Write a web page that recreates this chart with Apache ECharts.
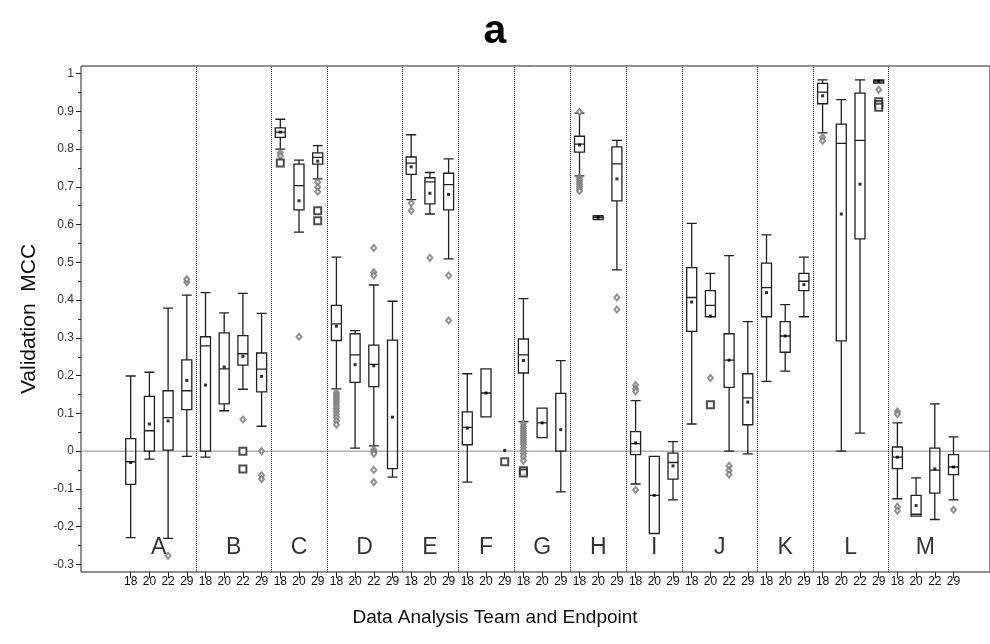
<!DOCTYPE html>
<html>
<head>
<meta charset="utf-8">
<script src="https://cdn.jsdelivr.net/npm/echarts@6/dist/echarts.min.js"></script>
<style>
  html, body { margin: 0; padding: 0; background: #fff; }
  #chart { width: 990px; height: 644px; }
</style>
</head>
<body>
<div id="chart"></div>
<script>
// Teams and the endpoints each team reported on
const teams = ['A', 'B', 'C', 'D', 'E', 'F', 'G', 'H', 'I', 'J', 'K', 'L', 'M'];
const teamEndpoints = [
  ['18', '20', '22', '29'],
  ['18', '20', '22', '29'],
  ['18', '20', '29'],
  ['18', '20', '22', '29'],
  ['18', '20', '29'],
  ['18', '20', '29'],
  ['18', '20', '29'],
  ['18', '20', '29'],
  ['18', '20', '29'],
  ['18', '20', '22', '29'],
  ['18', '20', '29'],
  ['18', '20', '22', '29'],
  ['18', '20', '22', '29']
];

// Box statistics, one entry per team/endpoint slot (in the order above)
const lowerWhisker = [-0.229, -0.021, -0.231, -0.014, -0.016, 0.107, 0.164, 0.066, 0.800, 0.580, 0.721, 0.165, 0.008, 0.014, -0.069, 0.666, 0.628, 0.509, -0.082, 0.091, null, 0.078, 0.036, -0.108, 0.729, 0.613, 0.480, -0.087, -0.218, -0.129, 0.072, 0.356, 0.000, -0.007, 0.185, 0.212, 0.356, 0.843, 0.000, 0.048, 0.975, -0.126, -0.172, -0.181, -0.129];
const lowerQuartile = [-0.088, 0.000, 0.003, 0.110, 0.000, 0.125, 0.228, 0.157, 0.831, 0.639, 0.760, 0.293, 0.182, 0.171, -0.046, 0.733, 0.655, 0.639, 0.017, 0.091, null, 0.207, 0.036, 0.000, 0.792, 0.614, 0.663, -0.009, -0.218, -0.074, 0.317, 0.356, 0.169, 0.070, 0.356, 0.262, 0.425, 0.920, 0.292, 0.562, 0.975, -0.046, -0.172, -0.111, -0.062];
const medianValue = [-0.028, 0.054, 0.089, 0.160, 0.279, 0.218, 0.258, 0.217, 0.845, 0.703, 0.778, 0.337, 0.255, 0.230, -0.046, 0.763, 0.713, 0.706, 0.063, 0.154, null, 0.255, 0.075, 0.000, 0.813, 0.619, 0.761, 0.020, -0.117, -0.030, 0.407, 0.386, 0.241, 0.141, 0.433, 0.305, 0.450, 0.951, 0.815, 0.823, 0.980, -0.016, -0.167, -0.050, -0.042];
const upperQuartile = [0.033, 0.145, 0.160, 0.242, 0.303, 0.313, 0.306, 0.260, 0.856, 0.760, 0.790, 0.386, 0.311, 0.281, 0.294, 0.779, 0.724, 0.736, 0.104, 0.218, null, 0.297, 0.114, 0.153, 0.834, 0.623, 0.806, 0.052, -0.014, -0.005, 0.486, 0.425, 0.311, 0.205, 0.498, 0.343, 0.471, 0.974, 0.866, 0.948, 0.983, 0.011, -0.117, 0.008, -0.009];
const upperWhisker = [0.199, 0.209, 0.379, 0.413, 0.420, 0.366, 0.418, 0.365, 0.879, 0.771, 0.809, 0.514, 0.319, 0.440, 0.397, 0.838, 0.738, 0.774, 0.205, 0.218, null, 0.404, 0.114, 0.240, 0.895, 0.624, 0.823, 0.134, -0.014, 0.025, 0.603, 0.471, 0.518, 0.343, 0.573, 0.388, 0.514, 0.983, 0.931, 0.983, 0.983, 0.075, -0.071, 0.125, 0.038];
const meanValue = [-0.030, 0.072, 0.080, 0.187, 0.175, 0.223, 0.251, 0.198, 0.845, 0.663, 0.768, 0.331, 0.229, 0.226, 0.090, 0.753, 0.683, 0.680, 0.061, 0.154, 0.002, 0.240, 0.075, 0.057, 0.811, 0.619, 0.721, 0.022, -0.117, -0.039, 0.395, 0.358, 0.241, 0.130, 0.420, 0.305, 0.441, 0.941, 0.628, 0.707, 0.980, -0.016, -0.144, -0.047, -0.042];

// Outlying models, drawn as diamonds (mild) and squares (extreme)
const diamondOutliers = {
  'A-22': [-0.277],
  'A-29': [0.447, 0.455],
  'B-22': [0.084],
  'B-29': [0.000, -0.064, -0.074],
  'C-18': [0.790, 0.782],
  'C-20': [0.303],
  'C-29': [0.712, 0.699, 0.687],
  'D-18': [0.155, 0.149, 0.143, 0.137, 0.131, 0.125, 0.119, 0.112, 0.105, 0.097, 0.089, 0.080, 0.070],
  'D-22': [0.538, 0.474, 0.465, 0.004, -0.002, -0.007, -0.050, -0.082],
  'E-18': [0.657, 0.637],
  'E-20': [0.512],
  'E-29': [0.465, 0.346],
  'G-18': [0.073, 0.066, 0.060, 0.054, 0.048, 0.042, 0.036, 0.030, 0.024, 0.018, 0.010, 0.002, -0.006, -0.014, -0.025],
  'H-18': [0.898, 0.725, 0.719, 0.713, 0.707, 0.701, 0.695, 0.689],
  'H-29': [0.407, 0.375],
  'I-18': [0.175, 0.165, 0.158, -0.103],
  'J-20': [0.194],
  'J-22': [-0.039, -0.051, -0.062],
  'L-18': [0.831, 0.822],
  'L-29': [0.957],
  'M-18': [0.105, 0.098, -0.147, -0.158],
  'M-29': [-0.155]
};
const squareOutliers = {
  'B-22': [0.000, -0.047],
  'C-18': [0.763],
  'C-29': [0.637, 0.610],
  'F-29': [-0.028],
  'G-18': [-0.052, -0.058],
  'J-20': [0.123],
  'L-29': [0.925, 0.918, 0.911]
};

// Y-axis tick range
const yTickMin = -0.3;
const yTickMax = 1.0;
const yTickStep = 0.1;

// ---- build slots ----
const slotKeys = [];
const groupStart = [];
teams.forEach((t, ti) => {
  groupStart.push(slotKeys.length);
  teamEndpoints[ti].forEach(ep => slotKeys.push(t + '-' + ep));
});
const slotCount = slotKeys.length;

const boxData = slotKeys.map((k, i) =>
  lowerWhisker[i] == null ? ['-', '-', '-', '-', '-'] :
  [lowerWhisker[i], lowerQuartile[i], medianValue[i], upperQuartile[i], upperWhisker[i]]);
const meanData = slotKeys.map((k, i) => [k, meanValue[i]]);
const toPoints = obj => {
  const pts = [];
  Object.keys(obj).forEach(k => obj[k].forEach(v => pts.push([k, v])));
  return pts;
};

// group centres and separators in slot units
const groupCentre = teams.map((t, ti) => groupStart[ti] + (teamEndpoints[ti].length - 1) / 2);
const separators = groupStart.slice(1).map(s => ({ xAxis: s - 0.5 }));

// ---- layout (pixels) ----
const FONT = "'Liberation Sans', Arial, Helvetica, sans-serif";
const frameLeft = 81, frameTop = 66, frameBottomGap = 72;
const yMin = -0.32, yMax = 1.02;
const plotH = 644 - frameTop - frameBottomGap;
const pxPerUnit = plotH / (yMax - yMin);
const slotW = 18.7;
const firstSlotX = 130.7;
const dataLeft = firstSlotX - slotW / 2;
const dataRight = 990 - (dataLeft + slotW * slotCount);

const chart = echarts.init(document.getElementById('chart'), null, { renderer: 'canvas' });

chart.setOption({
  animation: false,
  backgroundColor: '#fff',
  textStyle: { fontFamily: FONT },
  title: [
    { text: 'a', left: 'center', top: 6,
      textStyle: { fontSize: 41, fontWeight: 'bold', color: '#000', fontFamily: FONT } },
    { text: 'Data Analysis Team and Endpoint', left: 'center', top: 603,
      textStyle: { fontSize: 19, fontWeight: 'normal', color: '#111', fontFamily: FONT } }
  ],
  grid: [
    // data area
    { left: dataLeft, right: dataRight, top: frameTop, bottom: frameBottomGap, show: false },
    // frame
    { left: frameLeft, right: -10, top: frameTop, bottom: frameBottomGap, show: true,
      borderColor: '#222', borderWidth: 1, backgroundColor: 'transparent' },
    // y tick span
    { left: frameLeft, right: -10,
      top: frameTop + (yMax - yTickMax) * pxPerUnit,
      bottom: frameBottomGap + (yTickMin - yMin) * pxPerUnit, show: false }
  ],
  xAxis: [
    { gridIndex: 0, type: 'category', data: slotKeys, boundaryGap: true,
      axisLine: { show: false, onZero: false },
      axisTick: { show: true, alignWithLabel: true, length: 6, lineStyle: { color: '#222', width: 1 } },
      axisLabel: { interval: 0, fontSize: 12, color: '#111', margin: 4, fontFamily: FONT,
        formatter: v => v.split('-')[1] },
      splitLine: { show: false } },
    { gridIndex: 0, type: 'value', min: -0.5, max: slotCount - 0.5, show: false },
    { gridIndex: 1, type: 'value', min: 0, max: 1, show: false },
    { gridIndex: 2, type: 'value', min: 0, max: 1, show: false }
  ],
  yAxis: [
    { gridIndex: 0, type: 'value', min: yMin, max: yMax, show: false },
    { gridIndex: 1, type: 'value', min: yMin, max: yMax, show: false },
    { gridIndex: 2, type: 'value', min: yTickMin, max: yTickMax, interval: yTickStep,
      axisLine: { show: false, onZero: false },
      axisTick: { show: true, length: 5, lineStyle: { color: '#222' } },
      minorTick: { show: true, splitNumber: 2, length: 3, lineStyle: { color: '#222' } },
      splitLine: { show: false },
      axisLabel: { fontSize: 12, color: '#333', margin: 7, fontFamily: FONT },
      name: 'Validation  MCC', nameLocation: 'middle', nameGap: 41,
      nameTextStyle: { fontSize: 21, color: '#111', fontFamily: FONT } }
  ],
  series: [
    { // zero reference line across the frame
      type: 'line', xAxisIndex: 2, yAxisIndex: 1, data: [[0, 0], [1, 0]],
      symbol: 'none', silent: true, z: 1,
      lineStyle: { color: '#8a8a8a', width: 1 } },
    {
      type: 'boxplot', xAxisIndex: 0, yAxisIndex: 0, data: boxData,
      boxWidth: [10, 10], silent: true, z: 3,
      itemStyle: { color: 'transparent', borderColor: '#222', borderWidth: 1.3 },
      emphasis: { disabled: true }
    },
    {
      type: 'scatter', xAxisIndex: 0, yAxisIndex: 0, data: toPoints(diamondOutliers),
      symbol: 'emptyDiamond', symbolSize: [5, 6], silent: true, z: 4,
      itemStyle: { color: '#777', borderWidth: 1 }
    },
    {
      type: 'scatter', xAxisIndex: 0, yAxisIndex: 0, data: toPoints(squareOutliers),
      symbol: 'emptyRect', symbolSize: 7, silent: true, z: 4,
      itemStyle: { color: '#222', borderWidth: 1.2 }
    },
    {
      type: 'scatter', xAxisIndex: 0, yAxisIndex: 0, data: meanData,
      symbol: 'rect', symbolSize: 3, silent: true, z: 5,
      itemStyle: { color: '#000' }
    },
    { // team letters and group separators
      type: 'scatter', xAxisIndex: 1, yAxisIndex: 0, silent: true, z: 6,
      data: groupCentre.map((c, i) => ({ value: [c, -0.255], name: teams[i] })),
      symbolSize: 1, itemStyle: { color: 'rgba(0,0,0,0)' },
      label: { show: true, position: 'inside', formatter: p => p.name,
        fontSize: 23, color: '#000', fontFamily: FONT },
      markLine: {
        silent: true, symbol: 'none', label: { show: false },
        lineStyle: { type: 'dotted', color: '#222', width: 1 },
        data: separators
      }
    }
  ]
});
</script>
</body>
</html>
